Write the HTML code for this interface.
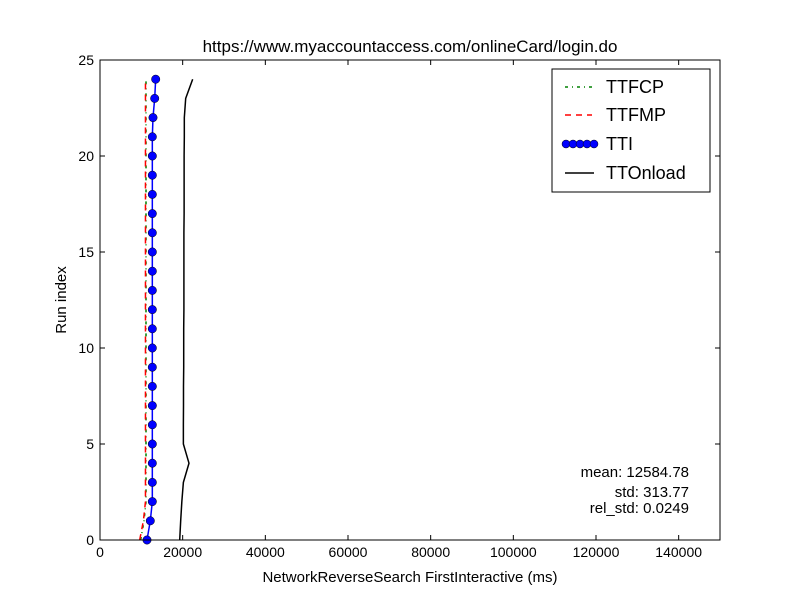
<!DOCTYPE html>
<html><head><meta charset="utf-8"><style>
body{margin:0;background:#fff;}
svg text{font-family:"Liberation Sans",sans-serif;}
</style></head><body>
<svg id="chart" width="800" height="600" xmlns="http://www.w3.org/2000/svg">
<rect width="800" height="600" fill="#fff"/>
<text x="410" y="52" font-size="17" text-anchor="middle">https://www.myaccountaccess.com/onlineCard/login.do</text>
<g id="marks"></g>
<rect x="100" y="60" width="620" height="480" fill="none" stroke="#000" stroke-width="1"/>
<g id="axes"></g>
<text x="410" y="582" font-size="15" text-anchor="middle">NetworkReverseSearch FirstInteractive (ms)</text>
<text transform="translate(66,300) rotate(-90)" font-size="15" text-anchor="middle">Run index</text>
<g font-size="15" text-anchor="end">
<text x="689" y="477">mean: 12584.78</text>
<text x="689" y="497">std: 313.77</text>
<text x="689" y="513">rel_std: 0.0249</text>
</g>
<g>
<rect x="552" y="69" width="158" height="123" fill="#fff" stroke="#000"/>
<line x1="565" y1="87" x2="592" y2="87" stroke="#008000" stroke-width="1.5" stroke-dasharray="3,4,1,4"/>
<text x="606" y="93" font-size="18">TTFCP</text>
<line x1="565" y1="115" x2="592" y2="115" stroke="#f00" stroke-width="1.5" stroke-dasharray="6,5"/>
<text x="606" y="121" font-size="18">TTFMP</text>
<line x1="565" y1="144" x2="594" y2="144" stroke="#00f" stroke-width="1.5"/>
<g fill="#00f" stroke="#000" stroke-width="0.5"><circle cx="566" cy="144" r="4"/><circle cx="573" cy="144" r="4"/><circle cx="580" cy="144" r="4"/><circle cx="587" cy="144" r="4"/><circle cx="594" cy="144" r="4"/></g>
<text x="606" y="150" font-size="18">TTI</text>
<line x1="565" y1="173" x2="594" y2="173" stroke="#000" stroke-width="1.5"/>
<text x="606" y="179" font-size="18">TTOnload</text>
</g>
</svg>
<script>
const runIndex=[0,1,2,3,4,5,6,7,8,9,10,11,12,13,14,15,16,17,18,19,20,21,22,23,24];
const ttfcp=[9840,10650,11130,11130,11130,11130,11130,11130,11130,11130,11130,11130,11130,11130,11130,11130,11130,11130,11130,11130,11130,11130,11130,11130,11130];
const ttfmp=[9600,10500,11000,11000,11000,11000,11000,11000,11000,11000,11000,11000,11000,11000,11000,11000,11000,11000,11000,11000,11000,11000,11000,11000,11000];
const tti=[11370,12170,12660,12660,12660,12660,12660,12660,12660,12660,12660,12660,12660,12660,12660,12660,12660,12660,12660,12660,12660,12660,12820,13230,13470];
const ttonload=[19280,19520,19800,20170,21530,20170,20170,20200,20200,20250,20250,20250,20300,20300,20300,20300,20300,20350,20350,20350,20350,20400,20400,20730,22420];
const xTicks=[0,20000,40000,60000,80000,100000,120000,140000];
const yTicks=[0,5,10,15,20,25];
const NS="http://www.w3.org/2000/svg";
const xs=v=>100+v*620/150000, ys=v=>540-v*480/25;
const marks=document.getElementById('marks'), axes=document.getElementById('axes');
function mk(tag,attrs,parent){const e=document.createElementNS(NS,tag);for(const k in attrs)e.setAttribute(k,attrs[k]);parent.appendChild(e);return e;}
function line(vals,stroke,dash,name){
  const p=mk('polyline',{points:vals.map((v,i)=>xs(v)+','+ys(runIndex[i])).join(' '),fill:'none',stroke:stroke,'stroke-width':1.5,'stroke-dasharray':dash},marks);
  
  
}
line(ttonload,'#000','none','ttonload-line');
line(ttfcp,'#008000','3,4,1,4','ttfcp-line');
line(ttfmp,'#f00','6,5','ttfmp-line');
line(tti,'#00f','none','tti-line');
tti.forEach((v,i)=>{
  const c=mk('circle',{cx:xs(v),cy:ys(runIndex[i]),r:4.2,fill:'#00f',stroke:'#000','stroke-width':0.5},marks);
  
  
});
xTicks.forEach(t=>{
  const x=xs(t);
  mk('line',{x1:x,x2:x,y1:540,y2:535,stroke:'#000'},axes);
  mk('line',{x1:x,x2:x,y1:60,y2:65,stroke:'#000'},axes);
  const tx=mk('text',{x:x,y:557,'font-size':14,'text-anchor':'middle'},axes);
  tx.textContent=t;
  
  
});
yTicks.forEach(t=>{
  const y=ys(t);
  mk('line',{x1:100,x2:105,y1:y,y2:y,stroke:'#000'},axes);
  mk('line',{x1:720,x2:715,y1:y,y2:y,stroke:'#000'},axes);
  const tx=mk('text',{x:94,y:y+5,'font-size':14,'text-anchor':'end'},axes);
  tx.textContent=t;
  
  
});
</script>
</body></html>
